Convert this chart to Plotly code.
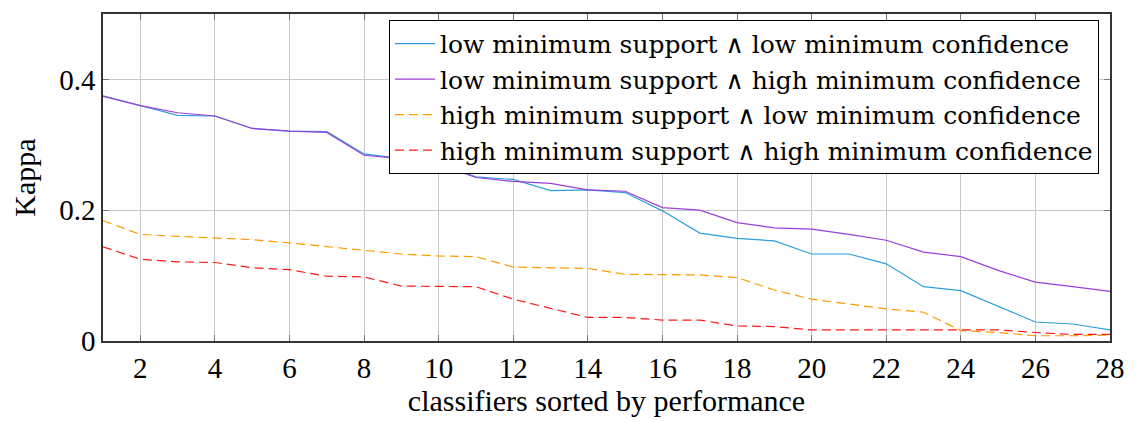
import plotly.graph_objects as go

# Classifier rank (sorted by performance)
ranks = list(range(1, 29))

# Kappa values for each rule-mining configuration
low_sup_low_conf = [0.375, 0.360, 0.345, 0.344, 0.325, 0.321, 0.320, 0.286, 0.279, 0.270,
                    0.251, 0.247, 0.230, 0.231, 0.227, 0.199, 0.165, 0.157, 0.153, 0.133,
                    0.133, 0.118, 0.083, 0.077, 0.053, 0.029, 0.026, 0.017]
low_sup_high_conf = [0.374, 0.360, 0.349, 0.344, 0.325, 0.321, 0.319, 0.284, 0.279, 0.270,
                     0.250, 0.244, 0.241, 0.231, 0.229, 0.204, 0.200, 0.181, 0.173, 0.171,
                     0.163, 0.154, 0.136, 0.129, 0.108, 0.090, 0.083, 0.076]
high_sup_low_conf = [0.184, 0.163, 0.160, 0.157, 0.155, 0.150, 0.144, 0.138, 0.133, 0.130,
                     0.129, 0.113, 0.112, 0.111, 0.102, 0.102, 0.101, 0.097, 0.078, 0.064,
                     0.057, 0.049, 0.044, 0.016, 0.013, 0.008, 0.008, 0.009]
high_sup_high_conf = [0.144, 0.125, 0.121, 0.120, 0.112, 0.109, 0.099, 0.098, 0.084, 0.083,
                      0.083, 0.064, 0.050, 0.036, 0.036, 0.032, 0.032, 0.023, 0.022, 0.017,
                      0.017, 0.017, 0.017, 0.017, 0.017, 0.013, 0.010, 0.010]

series_names = [
    "low minimum support \u2227 low minimum confidence",
    "low minimum support \u2227 high minimum confidence",
    "high minimum support \u2227 low minimum confidence",
    "high minimum support \u2227 high minimum confidence",
]
series_values = [low_sup_low_conf, low_sup_high_conf, high_sup_low_conf, high_sup_high_conf]
series_colors = ["#2f9fdc", "#9a3fd8", "#ff9a00", "#ff1a1a"]
series_dash = ["solid", "solid", "9px,5px", "9px,5px"]

x_ticks = list(range(2, 29, 2))
y_ticks = [0, 0.2, 0.4]
y_tick_text = ["0", "0.2", "0.4"]

FONT = "Liberation Serif"
# the legend needs a serif face that carries the logical-and glyph
LEGEND_FONT = "DejaVu Serif"

fig = go.Figure()
for name, vals, col, dash in zip(series_names, series_values, series_colors, series_dash):
    fig.add_trace(go.Scatter(
        x=ranks, y=vals, name=name, mode="lines",
        line=dict(color=col, width=1.2, dash=dash),
    ))

axis_common = dict(
    showgrid=True, gridcolor="#c8c8c8", gridwidth=1,
    showline=True, linecolor="#333333", linewidth=1.5, mirror="allticks",
    ticks="inside", ticklen=6, tickcolor="#777777", tickwidth=1,
    zeroline=False,
    tickfont=dict(family=FONT, size=29, color="black"),
)

fig.update_layout(
    width=1137, height=421,
    margin=dict(l=103, r=19, t=14, b=74),
    paper_bgcolor="white", plot_bgcolor="white",
    font=dict(family=FONT, color="black"),
    xaxis=dict(
        range=[1, 28], tickvals=x_ticks,
        title=dict(text="classifiers sorted by performance",
                   font=dict(family=FONT, size=30), standoff=4),
        **axis_common,
    ),
    yaxis=dict(
        range=[0, 0.5], tickvals=y_ticks, ticktext=y_tick_text,
        title=dict(text="Kappa", font=dict(family=FONT, size=30), standoff=15),
        **axis_common,
    ),
    legend=dict(
        x=0.989, y=0.982, xanchor="right", yanchor="top",
        bgcolor="white", bordercolor="black", borderwidth=1,
        font=dict(family=LEGEND_FONT, size=25, color="black"),
        itemwidth=40, tracegroupgap=0,
    ),
    showlegend=True,
)

fig.write_html("out.html")
